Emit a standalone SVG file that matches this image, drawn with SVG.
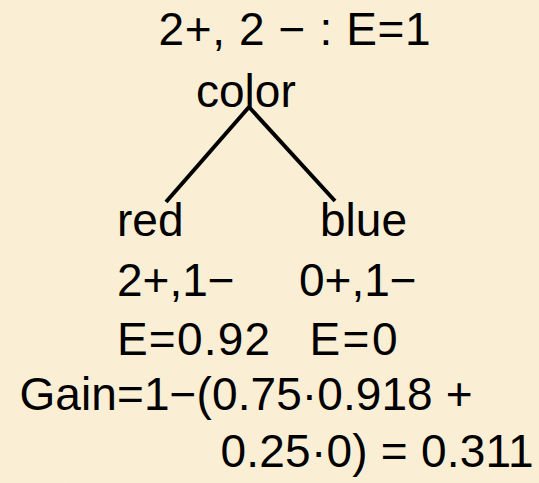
<svg xmlns="http://www.w3.org/2000/svg" width="539" height="483" viewBox="0 0 539 483">
  <defs>
    <style>
      .t { font-family: "Liberation Sans", Arial, Helvetica, sans-serif; font-size: 46px; fill: #000; }
      .edge { stroke: #000; stroke-width: 4; stroke-linecap: butt; fill: none; }
    </style>
    <!-- soft parchment mottling -->
    <filter id="parchment" x="0" y="0" width="100%" height="100%">
      <feTurbulence type="fractalNoise" baseFrequency="0.012 0.02" numOctaves="3" seed="7" result="n"/>
      <feColorMatrix in="n" type="matrix"
        values="0 0 0 0 0.93
                0 0 0 0 0.86
                0 0 0 0 0.68
                1.2 0 0 0 -0.45"/>
    </filter>
  </defs>

  <!-- background -->
  <rect width="539" height="483" fill="#faefd5"/>
  <rect width="539" height="483" filter="url(#parchment)" opacity="0.35"/>

  <!-- root -->
  <g id="root">
    <text class="t" x="158.5" y="45" textLength="272" lengthAdjust="spacing">2+, 2 − : E=1</text>
    <text class="t" x="196" y="107">color</text>
  </g>

  <!-- branches -->
  <g id="connectors">
    <line class="edge" x1="249" y1="107" x2="166" y2="202"/>
    <line class="edge" x1="249" y1="107" x2="335" y2="201"/>
  </g>

  <!-- left leaf -->
  <g id="red">
    <text class="t" x="117" y="236">red</text>
    <text class="t" x="117" y="296">2+,1−</text>
    <text class="t" x="117" y="355" textLength="153" lengthAdjust="spacing">E=0.92</text>
  </g>

  <!-- right leaf -->
  <g id="blue">
    <text class="t" x="320" y="236">blue</text>
    <text class="t" x="299" y="296">0+,1−</text>
    <text class="t" x="309.5" y="355" textLength="88" lengthAdjust="spacing">E=0</text>
  </g>

  <!-- information gain -->
  <g id="gain">
    <text class="t" x="19.5" y="410" textLength="453" lengthAdjust="spacing">Gain=1−(0.75·0.918 +</text>
    <text class="t" x="220.5" y="467" textLength="313" lengthAdjust="spacing">0.25·0) = 0.311</text>
  </g>
</svg>
